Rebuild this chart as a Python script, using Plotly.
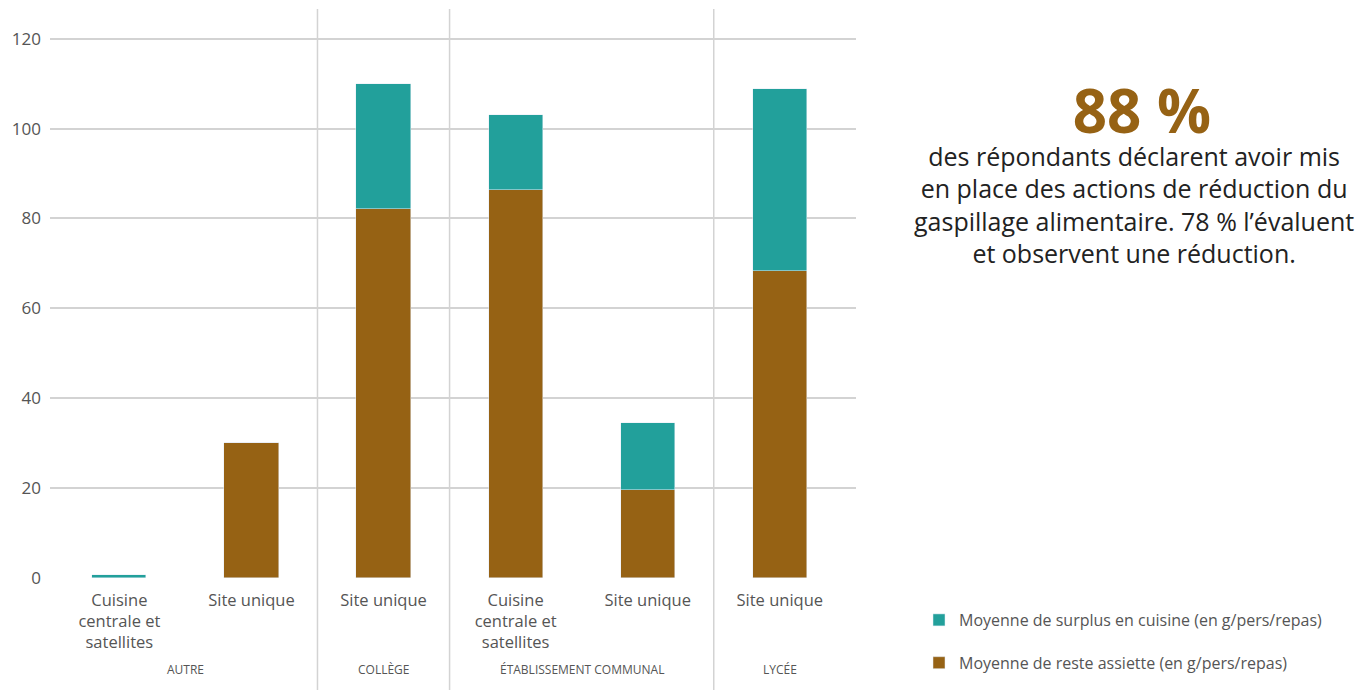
import plotly.graph_objects as go

# Données
groupes = ["AUTRE", "COLLÈGE", "ÉTABLISSEMENT COMMUNAL", "LYCÉE"]
groupe_par_barre = ["AUTRE", "AUTRE", "COLLÈGE", "ÉTABLISSEMENT COMMUNAL", "ÉTABLISSEMENT COMMUNAL", "LYCÉE"]
types_site = ["Cuisine<br>centrale et<br>satellites", "Site unique", "Site unique",
              "Cuisine<br>centrale et<br>satellites", "Site unique", "Site unique"]
reste_assiette = [0, 30.0, 82.1, 86.4, 19.6, 68.3]
surplus_cuisine = [0.6, 0, 27.9, 16.6, 14.8, 40.5]
graduations_y = [0, 20, 40, 60, 80, 100, 120]

nom_reste = "Moyenne de reste assiette (en g/pers/repas)"
nom_surplus = "Moyenne de surplus en cuisine (en g/pers/repas)"

chiffre_cle = "88 %"
texte_cle = ["des répondants déclarent avoir mis",
             "en place des actions de réduction du",
             "gaspillage alimentaire. 78 % l’évaluent",
             "et observent une réduction."]

BRUN = "#966214"
TURQUOISE = "#22A09B"
GRILLE = "#d3d3d3"
TEXTE = "#555555"
FONT = "Open Sans"

W, H = 1363, 690
ML, MR, MT, MB = 50, 507, 9, 112

x_pos = list(range(len(types_site)))

fig = go.Figure()
fig.add_trace(go.Bar(x=x_pos, y=reste_assiette, name=nom_reste, marker_color=BRUN,
                     width=0.41, legendgroup="reste", legendrank=2, hoverinfo="y+name"))
fig.add_trace(go.Bar(x=x_pos, y=surplus_cuisine, name=nom_surplus, marker_color=TURQUOISE,
                     width=0.41, legendgroup="surplus", legendrank=1, hoverinfo="y+name"))


def px_to_paper_x(px):
    return (px - ML) / (W - ML - MR)


def px_to_paper_y(py):
    return (H - MB - py) / (H - MT - MB)


# Séparateurs verticaux entre les groupes
limites = [i + 0.5 for i in range(len(groupe_par_barre) - 1)
           if groupe_par_barre[i] != groupe_par_barre[i + 1]]
for b in limites:
    fig.add_shape(type="line", xref="x", yref="paper", x0=b, x1=b,
                  y0=px_to_paper_y(H), y1=1, line=dict(color=GRILLE, width=1.5),
                  layer="below")

# Étiquettes de groupe sous l'axe
for g in groupes:
    idx = [i for i, v in enumerate(groupe_par_barre) if v == g]
    centre = sum(idx) / len(idx)
    fig.add_annotation(x=centre, xref="x", y=px_to_paper_y(669), yref="paper",
                       text=g, showarrow=False, yanchor="middle",
                       font=dict(family=FONT, size=12, color=TEXTE))

# Chiffre clé et texte explicatif, dans un même bloc centré
bloc = (f"<span style='font-size:60px;color:{BRUN}'><b>&nbsp;{chiffre_cle}</b></span><br>"
        + "<br>".join(texte_cle))
fig.add_annotation(x=px_to_paper_x(1134), xref="paper", y=px_to_paper_y(170), yref="paper",
                   text=bloc, showarrow=False, xanchor="center", yanchor="middle",
                   align="center", font=dict(family=FONT, size=25, color="#222222"))

fig.update_layout(
    width=W, height=H,
    margin=dict(l=ML, r=MR, t=MT, b=MB),
    paper_bgcolor="white", plot_bgcolor="white",
    barmode="stack", bargap=0,
    font=dict(family=FONT, color=TEXTE),
    showlegend=True,
    legend=dict(xref="container", yref="container", x=919 / W, y=1 - 603 / H,
                xanchor="left", yanchor="top", traceorder="grouped",
                tracegroupgap=19, font=dict(family=FONT, size=16, color=TEXTE),
                bgcolor="rgba(0,0,0,0)"),
    xaxis=dict(range=[-0.525, 5.577], tickmode="array", tickvals=x_pos, ticktext=types_site,
               showgrid=False, zeroline=False, showline=False, ticks="",
               ticklabelstandoff=10,
               tickfont=dict(family=FONT, size=16.5, color=TEXTE), fixedrange=True),
    yaxis=dict(range=[0, 126.6], tickvals=graduations_y,
               showgrid=True, gridcolor=GRILLE, gridwidth=1.5, zeroline=False,
               showline=False, ticks="", ticklabelstandoff=8,
               tickfont=dict(family=FONT, size=17, color=TEXTE), fixedrange=True),
)

fig.write_html("out.html")
